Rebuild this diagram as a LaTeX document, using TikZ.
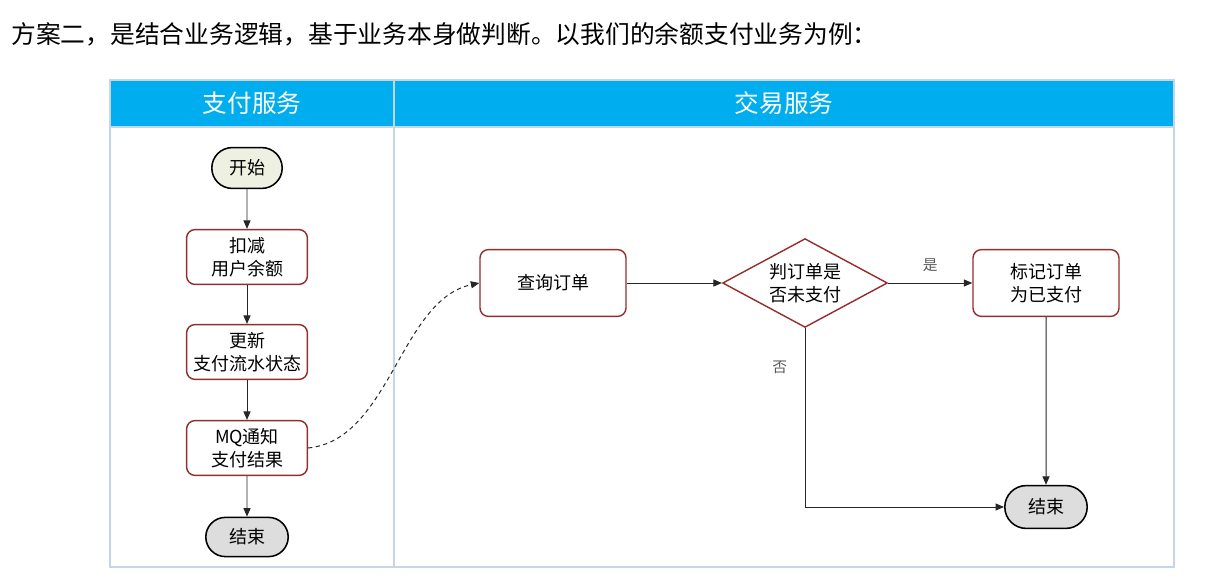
\documentclass[tikz,border=0pt]{standalone}
\usepackage{fontspec}
\setmainfont{Noto Sans CJK SC}
\usetikzlibrary{arrows.meta,positioning,shapes.geometric,shapes.misc}
\definecolor{lanecyan}{RGB}{0,174,239}
\definecolor{laneline}{RGB}{197,214,234}
\definecolor{boxred}{RGB}{150,45,45}
\definecolor{startfill}{RGB}{238,241,226}
\definecolor{endfill}{RGB}{221,221,221}
\definecolor{lblgray}{RGB}{90,90,90}
\tikzset{
  stepbox/.style={draw=boxred, line width=1pt, rounded corners=6pt, fill=white,
                  font=\fontsize{12.8}{16}\selectfont, align=center, inner sep=1pt,
                  minimum width=#1},
  stepbox/.default=3.02cm,
  termbox/.style={draw=black, line width=1.1pt, rounded rectangle, fill=#1,
                  font=\fontsize{12.8}{16}\selectfont, inner sep=1pt},
  decbox/.style={draw=boxred, line width=1pt, diamond, fill=white, aspect=1.85,
                 inner sep=0pt, minimum width=4.12cm, minimum height=2.22cm,
                 font=\fontsize{12.8}{16}\selectfont, align=center},
  lanehead/.style={text=white, font=\fontsize{17.5}{20}\selectfont},
  lbl/.style={text=lblgray, font=\fontsize{10.5}{12}\selectfont},
  flow/.style={draw=black!85, line width=0.7pt, -{Triangle[length=6pt,width=5pt]}},
}
\begin{document}
\begin{tikzpicture}[x=0.025cm, y=-0.025cm]
\useasboundingbox (0,0) rectangle (1211,583);
% intro line
\node[anchor=west, font=\fontsize{17.6}{20}\selectfont, inner sep=0pt] (intro) at (11,34)
  {方案二，是结合业务逻辑，基于业务本身做判断。以我们的余额支付业务为例：};

% swim lanes
\fill[lanecyan] (110,80) rectangle (1174,127);
\draw[laneline, line width=1.1pt] (110,80) rectangle (1174,567);
\draw[laneline, line width=1.1pt] (110,127) -- (1174,127);
\draw[laneline, line width=1.1pt] (394,80) -- (394,567);
\node[lanehead] (payhead) at (252,103) {支付服务};
\node[lanehead] (tradehead) at (784,103) {交易服务};

% left lane: payment service
\node[termbox=startfill, minimum width=1.83cm, minimum height=1.02cm] (start1) at (247,168) {开始};
\node[stepbox, minimum height=1.37cm] (deduct) at (247,257) {扣减\\用户余额};
\node[stepbox, minimum height=1.37cm] (update) at (247,352) {更新\\支付流水状态};
\node[stepbox, minimum height=1.37cm] (notify) at (247,448) {MQ通知\\支付结果};
\node[termbox=endfill, minimum width=2.13cm, minimum height=0.98cm] (end1) at (247,537) {结束};

% right lane: trade service
\node[stepbox=3.65cm, minimum height=1.67cm] (query) at (553,283) {查询订单};
\node[decbox] (check) at (805,283) {判订单是\\否未支付};
\node[stepbox=3.65cm, minimum height=1.67cm] (mark) at (1046,283) {标记订单\\为已支付};
\node[termbox=endfill, minimum width=2.13cm, minimum height=1.07cm] (end2) at (1046,507) {结束};

% connectors
\draw[flow] (start1) -- (deduct);
\draw[flow] (deduct) -- (update);
\draw[flow] (update) -- (notify);
\draw[flow] (notify) -- (end1);
\draw[flow, dash pattern=on 3pt off 2.5pt] (notify.east) .. controls (390,440) and (400,300) .. (query.west);
\draw[flow] (query) -- (check);
\draw[flow] (check) -- node[lbl, above=4pt] {是} (mark);
\draw[flow] (check.south) |- node[lbl, pos=0.11, left=9pt] {否} (end2.west);
\draw[flow] (mark) -- (end2);
\end{tikzpicture}
\end{document}
